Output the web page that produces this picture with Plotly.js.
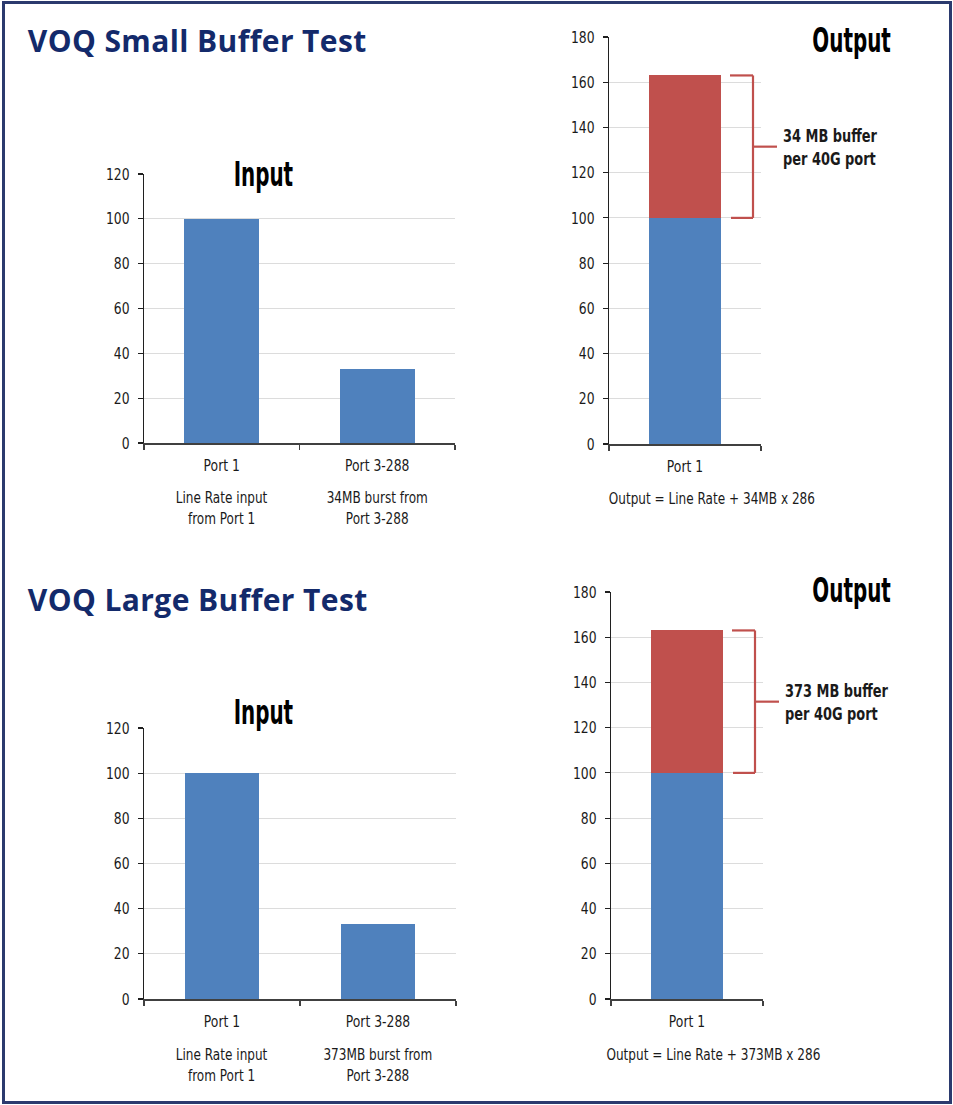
<!DOCTYPE html>
<html><head><meta charset="utf-8">
<script src="https://cdn.plot.ly/plotly-3.0.1.min.js"></script>
<style>
html,body{margin:0;padding:0;background:#fff;}
#chart{width:953px;height:1105px;}
g.annotation[data-index="0"] text, g.annotation[data-index="1"] text {letter-spacing:0.4px;}
g.annotation[data-index="2"] text, g.annotation[data-index="3"] text,
g.annotation[data-index="4"] text, g.annotation[data-index="5"] text {
  transform-box: fill-box; transform-origin: center; transform: scaleX(0.67);
}
g.annotation[data-index="6"] text, g.annotation[data-index="7"] text,
g.annotation[data-index="8"] text, g.annotation[data-index="9"] text,
g.annotation[data-index="10"] text, g.annotation[data-index="11"] text {
  transform-box: fill-box; transform-origin: center; transform: scaleX(0.84);
}
g.annotation[data-index="12"] text, g.annotation[data-index="13"] text {
  transform-box: fill-box; transform-origin: left center; transform: scaleX(0.8);
}
g.xtick, g.x2tick, g.x3tick, g.x4tick { transform-box: fill-box; transform-origin: center; transform: scaleX(0.86); }
g.ytick, g.y2tick, g.y3tick, g.y4tick { transform-box: fill-box; transform-origin: right center; transform: scaleX(0.86); }
</style></head><body><div id="chart"></div>
<script>
const W = 953, H = 1105;
const inputCategories = ["Port 1", "Port 3-288"];
const smallInputValues = [100, 33];
const largeInputValues = [100, 33];
const outputCategories = ["Port 1"];
const smallOutputLineRate = [100];
const smallOutputBuffer = [63];
const largeOutputLineRate = [100];
const largeOutputBuffer = [63];
const panelHeadings = ["VOQ Small Buffer Test", "VOQ Large Buffer Test"];
const chartTitles = ["Input", "Output"];
const smallInputNotes = ["Line Rate input<br>from Port 1", "34MB burst from<br>Port 3-288"];
const largeInputNotes = ["Line Rate input<br>from Port 1", "373MB burst from<br>Port 3-288"];
const smallOutputNote = "Output = Line Rate + 34MB x 286";
const largeOutputNote = "Output = Line Rate + 373MB x 286";
const smallBufferLabel = "34 MB buffer<br>per 40G port";
const largeBufferLabel = "373 MB buffer<br>per 40G port";

const px = x => x / W;
const py = y => 1 - y / H;
const COND = "'Liberation Sans Narrow', 'DejaVu Sans Condensed', 'Roboto Condensed', 'Arial Narrow', sans-serif";
const BLUE = "#4f81bd", RED = "#c0504d", NAVY = "#132a6b", INK = "#1a1a1a";

const traces = [
  {type: "bar", x: inputCategories, y: smallInputValues, xaxis: "x", yaxis: "y", marker: {color: BLUE}},
  {type: "bar", x: outputCategories, y: smallOutputLineRate, xaxis: "x2", yaxis: "y2", marker: {color: BLUE}},
  {type: "bar", x: outputCategories, y: smallOutputBuffer, xaxis: "x2", yaxis: "y2", marker: {color: RED}},
  {type: "bar", x: inputCategories, y: largeInputValues, xaxis: "x3", yaxis: "y3", marker: {color: BLUE}},
  {type: "bar", x: outputCategories, y: largeOutputLineRate, xaxis: "x4", yaxis: "y4", marker: {color: BLUE}},
  {type: "bar", x: outputCategories, y: largeOutputBuffer, xaxis: "x4", yaxis: "y4", marker: {color: RED}}
];
traces.forEach(t => { t.hoverinfo = "skip"; t.showlegend = false; });

function xAxis(d0, d1, anchor) {
  return {domain: [px(d0), px(d1)], anchor: anchor, type: "category",
    showline: true, linecolor: "#404040", linewidth: 1.5, mirror: false,
    ticks: "outside", tickson: "boundaries", ticklen: 5, tickcolor: "#404040", tickwidth: 1.2,
    ticklabelstandoff: 7,
    showgrid: false, zeroline: false, fixedrange: true,
    tickfont: {family: COND, size: 16, color: INK}};
}
function yAxis(top, bottom, max, anchor) {
  return {domain: [py(bottom), py(top)], anchor: anchor, range: [0, max], dtick: 20,
    showline: true, linecolor: "#202020", linewidth: 1.2,
    ticks: "outside", ticklen: 5, tickcolor: "#202020", tickwidth: 1.2, ticklabelstandoff: 5,
    showgrid: true, gridcolor: "#dcdcdc", gridwidth: 1, zeroline: false, fixedrange: true,
    tickfont: {family: COND, size: 16, color: INK}};
}

function bracket(yref, lineRate, buffer, xStartTop, xStartBot, xV, xTick) {
  const top = lineRate + buffer, bot = lineRate, mid = lineRate + buffer / 2;
  const ln = {color: RED, width: 2.2};
  return [
    {type: "line", xref: "paper", yref: yref, x0: px(xStartTop), x1: px(xV), y0: top, y1: top, line: ln},
    {type: "line", xref: "paper", yref: yref, x0: px(xV), x1: px(xV), y0: top, y1: bot, line: ln},
    {type: "line", xref: "paper", yref: yref, x0: px(xStartBot), x1: px(xV), y0: bot, y1: bot, line: ln},
    {type: "line", xref: "paper", yref: yref, x0: px(xV), x1: px(xTick), y0: mid, y1: mid, line: ln}
  ];
}

const shapes = [
  {type: "rect", xref: "paper", yref: "paper", x0: px(3.5), x1: px(950.5), y0: py(1102.5), y1: py(2.5),
   line: {color: "#2b3a6e", width: 3}, fillcolor: "rgba(0,0,0,0)"},
  ...bracket("y2", smallOutputLineRate[0], smallOutputBuffer[0], 730, 731, 753, 777),
  ...bracket("y4", largeOutputLineRate[0], largeOutputBuffer[0], 732, 733, 755, 779)
];

const headFont = {family: "'Open Sans', 'DejaVu Sans', sans-serif", size: 30, color: NAVY, weight: 700};
const titleFont = {family: COND, size: 33, color: "#000", weight: 700};
const noteFont = {family: COND, size: 16, color: INK};
const bracketFont = {family: COND, size: 18, color: INK, weight: 700};

const annotations = [
  {text: panelHeadings[0], xref: "paper", yref: "paper", x: px(30), y: py(41), xanchor: "left", yanchor: "middle", showarrow: false, font: headFont},
  {text: panelHeadings[1], xref: "paper", yref: "paper", x: px(30), y: py(599), xanchor: "left", yanchor: "middle", showarrow: false, font: headFont},
  {text: chartTitles[0], xref: "paper", yref: "paper", x: px(263), y: py(174), xanchor: "center", yanchor: "middle", showarrow: false, font: titleFont},
  {text: chartTitles[1], xref: "paper", yref: "paper", x: px(851), y: py(41), xanchor: "center", yanchor: "middle", showarrow: false, font: titleFont},
  {text: chartTitles[0], xref: "paper", yref: "paper", x: px(263), y: py(712), xanchor: "center", yanchor: "middle", showarrow: false, font: titleFont},
  {text: chartTitles[1], xref: "paper", yref: "paper", x: px(851), y: py(590), xanchor: "center", yanchor: "middle", showarrow: false, font: titleFont},
  ...inputCategories.map((c, i) => ({text: smallInputNotes[i], xref: "x", yref: "paper", x: c, y: py(508.5), xanchor: "center", yanchor: "middle", showarrow: false, font: noteFont})),
  ...inputCategories.map((c, i) => ({text: largeInputNotes[i], xref: "x3", yref: "paper", x: c, y: py(1064.5), xanchor: "center", yanchor: "middle", showarrow: false, font: noteFont})),
  {text: smallOutputNote, xref: "paper", yref: "paper", x: px(712), y: py(499), xanchor: "center", yanchor: "middle", showarrow: false, font: noteFont},
  {text: largeOutputNote, xref: "paper", yref: "paper", x: px(713), y: py(1054), xanchor: "center", yanchor: "middle", showarrow: false, font: noteFont},
  {text: smallBufferLabel, xref: "paper", yref: "y2", x: px(781), y: smallOutputLineRate[0] + smallOutputBuffer[0] / 2, xanchor: "left", yanchor: "middle", align: "left", showarrow: false, font: bracketFont},
  {text: largeBufferLabel, xref: "paper", yref: "y4", x: px(783), y: largeOutputLineRate[0] + largeOutputBuffer[0] / 2, xanchor: "left", yanchor: "middle", align: "left", showarrow: false, font: bracketFont}
];

const layout = {
  width: W, height: H, margin: {l: 0, r: 0, t: 0, b: 0},
  paper_bgcolor: "#fff", plot_bgcolor: "#fff",
  barmode: "stack", bargap: 0.52, showlegend: false,
  xaxis: xAxis(144, 455, "y"), yaxis: yAxis(174, 443, 120, "x"),
  xaxis2: xAxis(609, 761, "y2"), yaxis2: yAxis(37, 444, 180, "x2"),
  xaxis3: xAxis(144, 456, "y3"), yaxis3: yAxis(728, 999, 120, "x3"),
  xaxis4: xAxis(611, 763, "y4"), yaxis4: yAxis(592, 999, 180, "x4"),
  shapes: shapes, annotations: annotations
};

Plotly.newPlot("chart", traces, layout, {staticPlot: true, displayModeBar: false});
</script></body></html>
